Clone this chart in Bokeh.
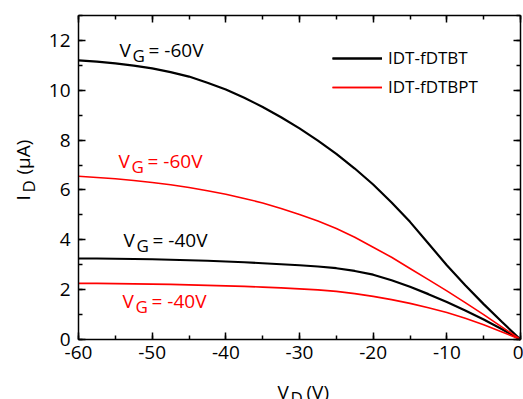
import math
from bokeh.plotting import figure
from bokeh.models import Range1d, LinearAxis, Label, Legend, LegendItem, SingleIntervalTicker
from bokeh.embed import file_html
from bokeh.resources import INLINE

# ---- data ----
vd = [-60, -57.5, -55, -52.5, -50, -47.5, -45, -42.5, -40, -37.5, -35, -32.5, -30, -27.5,
      -25, -22.5, -20, -17.5, -15, -12.5, -10, -7.5, -5, -2.5, 0]
fdtbt_vg60 = [11.2, 11.15, 11.08, 10.99, 10.88, 10.73, 10.55, 10.3, 10.03, 9.7, 9.33, 8.92,
              8.47, 7.98, 7.45, 6.86, 6.22, 5.5, 4.72, 3.85, 2.98, 2.18, 1.42, 0.7, 0]
fdtbpt_vg60 = [6.55, 6.5, 6.45, 6.38, 6.3, 6.21, 6.1, 5.97, 5.83, 5.66, 5.48, 5.26, 5.02,
               4.75, 4.45, 4.1, 3.7, 3.3, 2.85, 2.4, 1.95, 1.48, 1.0, 0.5, 0]
fdtbt_vg40 = [3.25, 3.25, 3.24, 3.23, 3.22, 3.2, 3.18, 3.16, 3.13, 3.1, 3.06, 3.02, 2.98,
              2.93, 2.86, 2.75, 2.6, 2.38, 2.12, 1.82, 1.5, 1.16, 0.8, 0.41, 0]
fdtbpt_vg40 = [2.25, 2.25, 2.24, 2.23, 2.22, 2.21, 2.19, 2.17, 2.15, 2.13, 2.1, 2.07, 2.03,
               1.99, 1.93, 1.84, 1.73, 1.6, 1.45, 1.27, 1.08, 0.85, 0.59, 0.3, 0]
series_names = ["IDT-fDTBT", "IDT-fDTBPT"]
x_ticks = [-60, -50, -40, -30, -20, -10, 0]
y_ticks = [0, 2, 4, 6, 8, 10, 12]
X_LIM = (-60, 0)
Y_LIM = (0, 13)

FONT = "Open Sans"
BLACK = "#000000"
RED = "#ff0000"

# ---- layout (pixels) ----
W, H = 523, 399
FL, FR, FT, FB = 78, 520, 15, 339   # plot box edges in the picture
sx = (FR - FL) / (X_LIM[1] - X_LIM[0])
sy = (FB - FT) / (Y_LIM[1] - Y_LIM[0])
x_range = Range1d(X_LIM[0] - FL / sx, X_LIM[1] + (W - FR) / sx)
y_range = Range1d(Y_LIM[0] - (H - FB) / sy, Y_LIM[1] + FT / sy)

p = figure(width=W, height=H, output_backend="svg", toolbar_location=None,
           x_range=x_range, y_range=y_range,
           x_axis_location=None, y_axis_location=None,
           min_border=0, min_border_left=0, min_border_right=0,
           min_border_top=0, min_border_bottom=0)
p.grid.visible = False
p.outline_line_color = None
p.background_fill_color = "white"
p.border_fill_color = "white"


def make_axis(interval, loc, bounds, labels, ticks=None):
    ax = LinearAxis(ticker=SingleIntervalTicker(interval=interval, num_minor_ticks=2),
                    fixed_location=loc, bounds=bounds)
    ax.major_tick_in = 7
    ax.major_tick_out = 0
    ax.minor_tick_in = 4
    ax.minor_tick_out = 0
    ax.axis_line_width = 1.5
    ax.axis_line_color = BLACK
    ax.major_tick_line_width = 1.5
    ax.minor_tick_line_width = 1.5
    if labels:
        ax.major_label_text_font = FONT
        ax.major_label_text_font_size = "19px"
        ax.major_label_text_color = BLACK
        ax.major_label_overrides = {t: str(t) for t in ticks}
    else:
        ax.major_label_text_font_size = "1px"
        ax.major_label_text_color = None
        ax.major_label_standoff = 0
    return ax


bottom_ax = make_axis(10, Y_LIM[0], X_LIM, True, x_ticks)
bottom_ax.major_label_standoff = 6
left_ax = make_axis(2, X_LIM[0], Y_LIM, True, y_ticks)
left_ax.major_label_standoff = 8
top_ax = make_axis(10, Y_LIM[1], X_LIM, False)
right_ax = make_axis(2, X_LIM[1], Y_LIM, False)
p.add_layout(bottom_ax, "below")
p.add_layout(left_ax, "left")
p.add_layout(top_ax, "above")
p.add_layout(right_ax, "right")

r1 = p.line(vd, fdtbt_vg60, line_color=BLACK, line_width=2.2)
r2 = p.line(vd, fdtbt_vg40, line_color=BLACK, line_width=2.2)
r3 = p.line(vd, fdtbpt_vg60, line_color=RED, line_width=1.6)
r4 = p.line(vd, fdtbpt_vg40, line_color=RED, line_width=1.6)

legend = Legend(items=[LegendItem(label=series_names[0], renderers=[r1, r2]),
                       LegendItem(label=series_names[1], renderers=[r3, r4])],
                location=(332, H - 98), padding=0, margin=0, spacing=6,
                glyph_width=50, glyph_height=20, label_height=20,
                label_standoff=6, border_line_color=None,
                background_fill_alpha=0,
                label_text_font=FONT, label_text_font_size="17px", label_text_color=BLACK)
p.add_layout(legend, "center")

SHIFT = 8  # text anchor correction


def sub_label(cx, cy, main, sub, rest, color, angle=0.0, main_w=13, rest_dx=29, drop=6):
    """Text with a subscript; (cx, cy) = start of baseline in picture pixels."""
    ca, sa = math.cos(angle), math.sin(angle)
    bx = cx - SHIFT * sa
    by = (H - cy) + SHIFT * ca
    def pos(dx, dy):
        return bx + dx * ca - dy * sa, by + dx * sa + dy * ca
    pieces = ((pos(0, 0), main, "19px"), (pos(main_w, -drop), sub, "17px"),
              (pos(rest_dx, 0), rest, "19px"))
    for (tx, ty), txt, fs in pieces:
        p.add_layout(Label(x=tx, y=ty, x_units="screen", y_units="screen", text=txt,
                           text_font=FONT, text_font_size=fs, text_color=color,
                           text_align="left", text_baseline="alphabetic", angle=angle))


sub_label(119, 57, "V", "G", "= -60V", BLACK)
sub_label(118, 168, "V", "G", "= -60V", RED)
sub_label(123, 247, "V", "G", "= -40V", BLACK)
sub_label(122, 308, "V", "G", "= -40V", RED)
# axis titles
sub_label(30, 200, "I", "D", "(\u03bcA)", BLACK, angle=math.pi / 2, main_w=8, rest_dx=26)
sub_label(277, 399, "V", "D", "(V)", BLACK, rest_dx=29)

open("out.html", "w").write(file_html(p, INLINE))
